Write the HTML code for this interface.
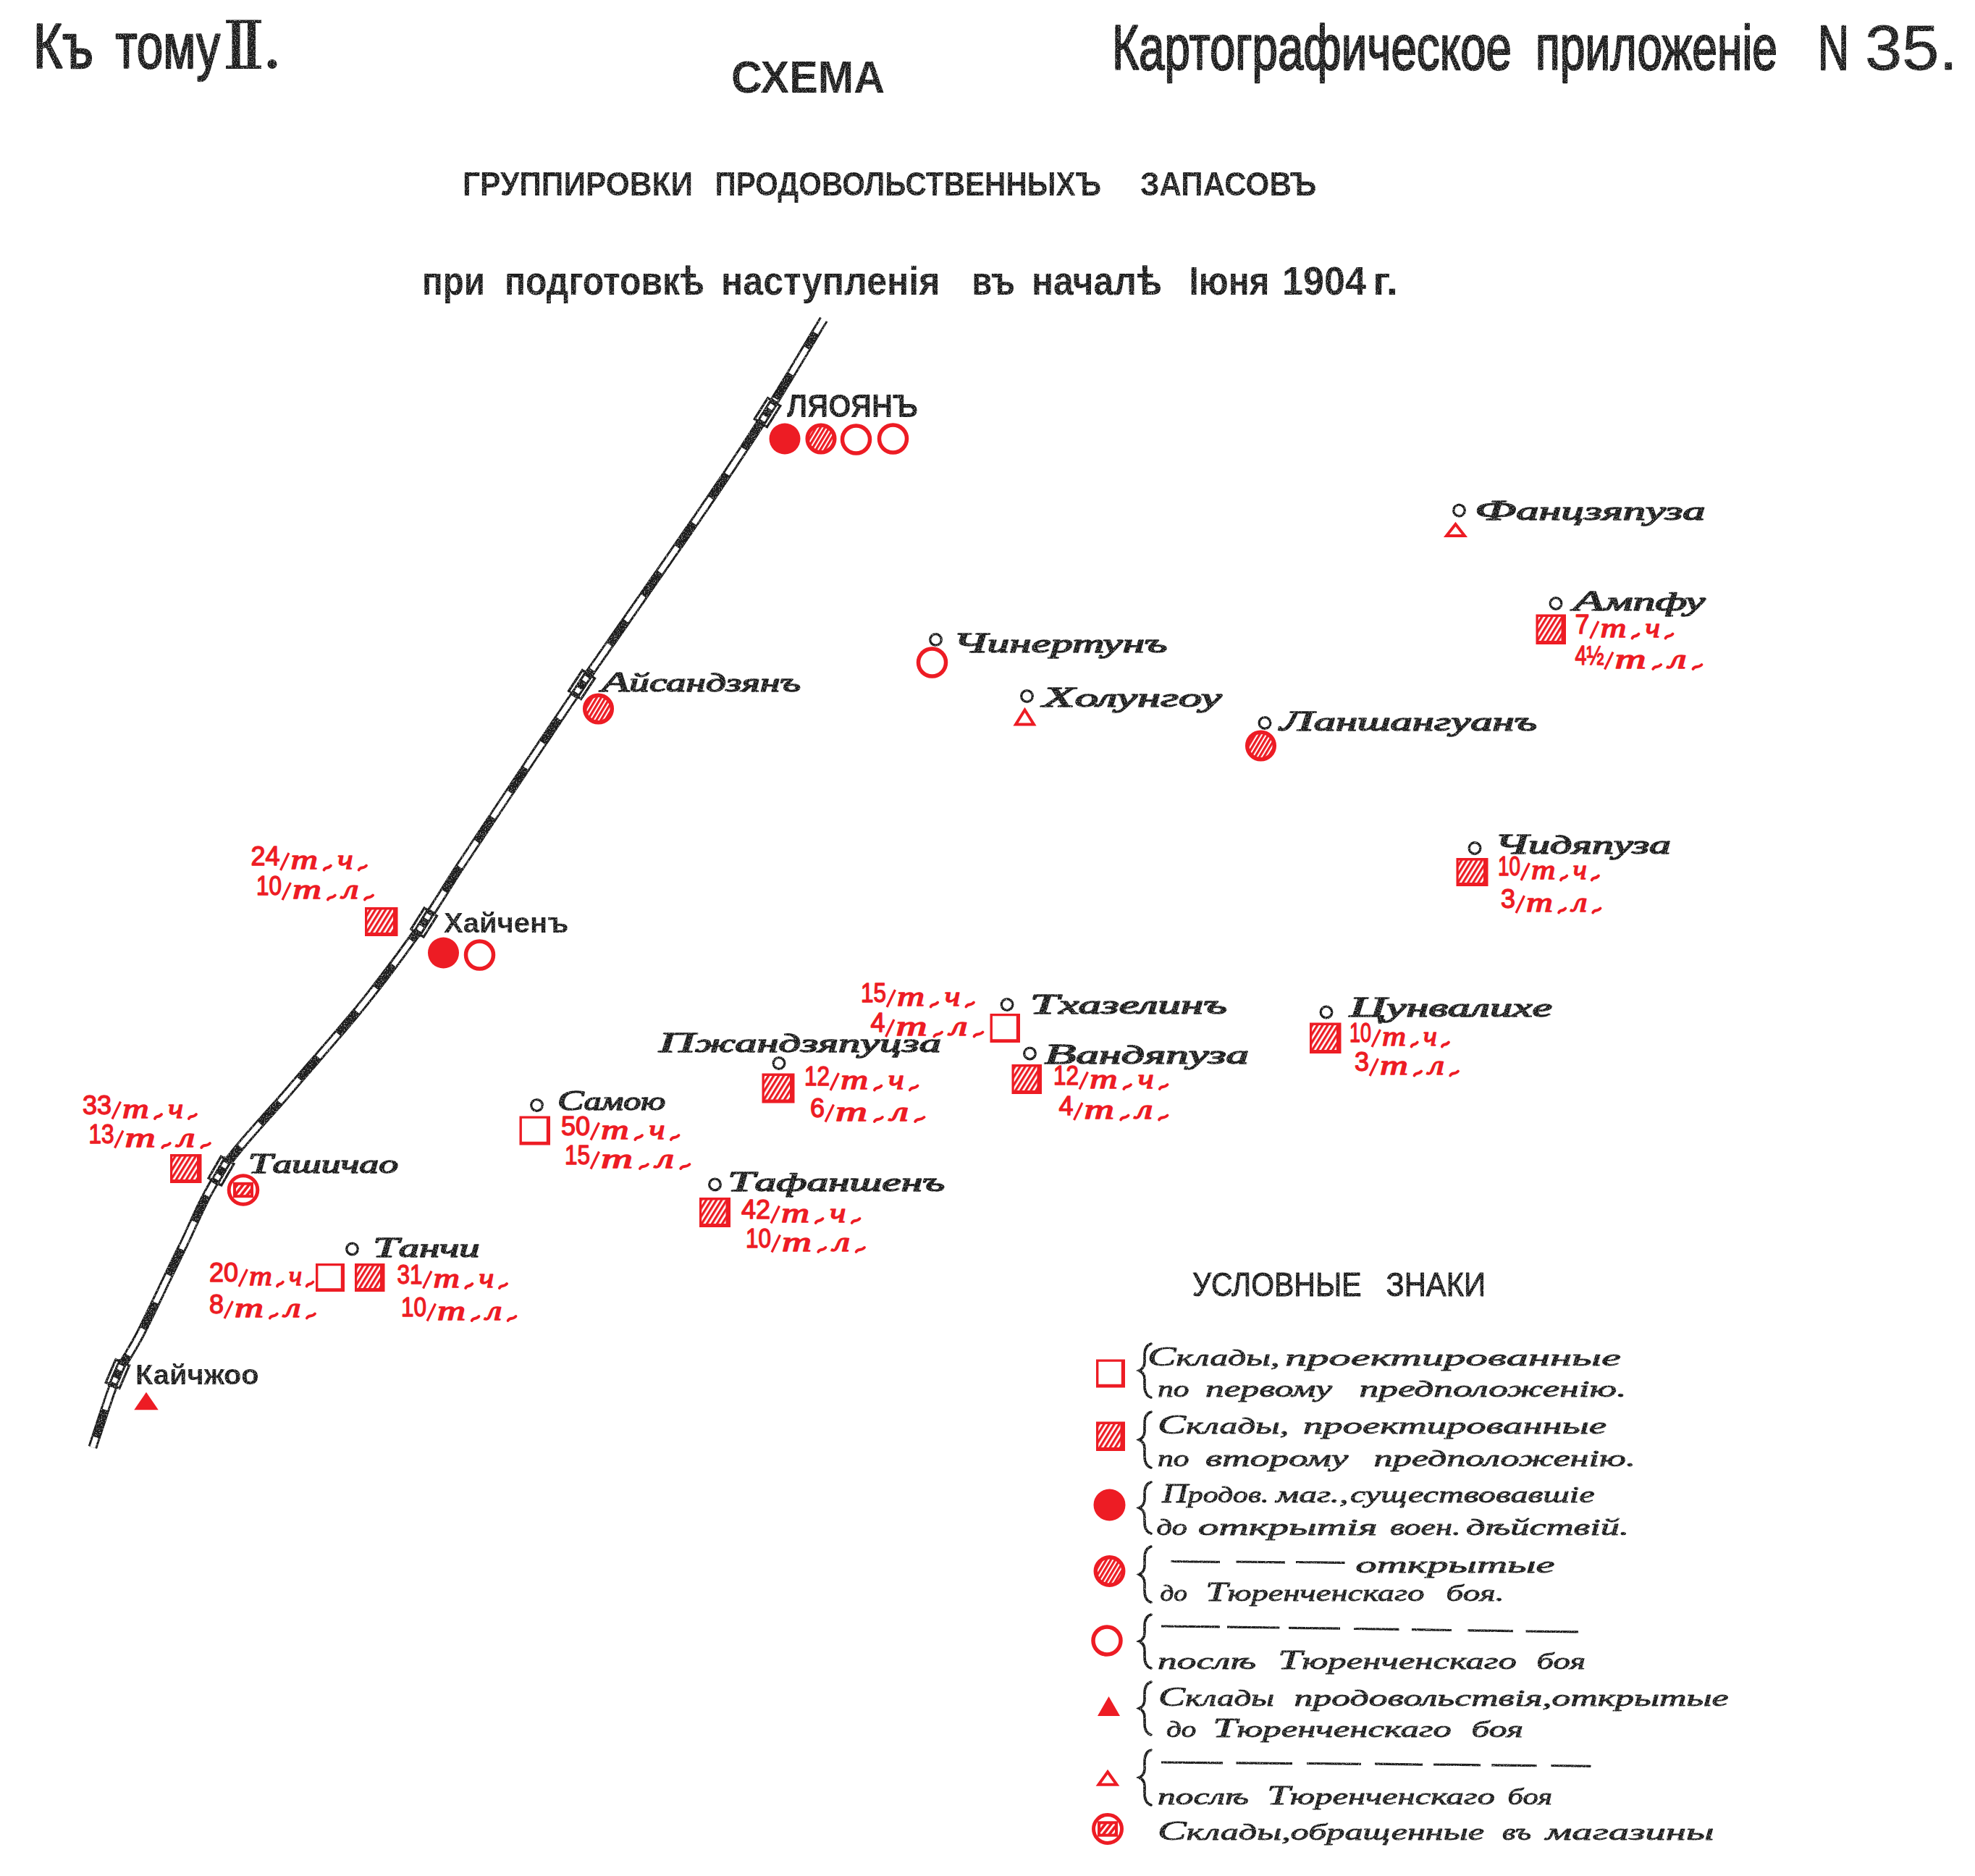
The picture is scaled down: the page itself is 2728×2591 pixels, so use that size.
<!DOCTYPE html>
<html><head><meta charset="utf-8"><title>Схема</title>
<style>html,body{margin:0;padding:0;background:#fff}body{width:2728px;height:2591px;overflow:hidden;font-family:"Liberation Sans",sans-serif}svg{display:block}</style>
</head><body>
<svg width="2728" height="2591" viewBox="0 0 2728 2591">
<defs>
<pattern id="hatch" patternUnits="userSpaceOnUse" width="6" height="6" patternTransform="rotate(32)">
<rect width="6" height="6" fill="#fff"/><rect width="3.3" height="6" fill="#ed1c24"/>
</pattern>
<pattern id="hatchc" patternUnits="userSpaceOnUse" width="5.2" height="5.2" patternTransform="rotate(31)">
<rect width="5.2" height="5.2" fill="#fff"/><rect width="3.2" height="5.2" fill="#ed1c24"/>
</pattern>
<pattern id="hatch2" patternUnits="userSpaceOnUse" width="6.5" height="6.5" patternTransform="rotate(38)">
<rect width="6.5" height="6.5" fill="#ed1c24"/><rect width="2.6" height="6.5" fill="#fff"/>
</pattern>
<filter id="grain" x="0" y="0" width="2728" height="2591" filterUnits="userSpaceOnUse" color-interpolation-filters="sRGB">
<feTurbulence type="fractalNoise" baseFrequency="0.6" numOctaves="2" seed="7" result="n"/>
<feComponentTransfer in="n" result="m"><feFuncA type="table" tableValues="1 1 1 1 1 1 1 1 1 1 1 1 0.9 0.65 0.48 0.42 0.4 0.4 0.4 0.4 0.4"/></feComponentTransfer>
<feComposite in="SourceGraphic" in2="m" operator="in"/>
</filter>
</defs>
<rect width="2728" height="2591" fill="#fff"/>
<g filter="url(#grain)">
<text x="46.0" y="93.5" font-family="'Liberation Sans', sans-serif" font-size="88" fill="#1c1c1c" textLength="83.0" lengthAdjust="spacingAndGlyphs" stroke="#1c1c1c" stroke-width="2.4" stroke-linejoin="round">Къ</text>
<text x="159.5" y="93.5" font-family="'Liberation Sans', sans-serif" font-size="88" fill="#1c1c1c" textLength="144.5" lengthAdjust="spacingAndGlyphs" stroke="#1c1c1c" stroke-width="2.4" stroke-linejoin="round">тому</text>
<g fill="#1c1c1c"><rect x="312" y="27.5" width="49" height="4.5"/><rect x="312" y="90.5" width="49" height="4.5"/><rect x="320.5" y="28" width="11" height="66"/><rect x="342" y="28" width="11" height="66"/><circle cx="376" cy="88.5" r="6.5"/></g>
<text x="1536.0" y="95.5" font-family="'Liberation Sans', sans-serif" font-size="88" fill="#1c1c1c" textLength="552.0" lengthAdjust="spacingAndGlyphs" stroke="#1c1c1c" stroke-width="2.4" stroke-linejoin="round">Картографическое</text>
<text x="2121.0" y="95.5" font-family="'Liberation Sans', sans-serif" font-size="88" fill="#1c1c1c" textLength="334.0" lengthAdjust="spacingAndGlyphs" stroke="#1c1c1c" stroke-width="2.4" stroke-linejoin="round">приложенiе</text>
<text x="2511.0" y="95.5" font-family="'Liberation Sans', sans-serif" font-size="88" fill="#1c1c1c" textLength="43.0" lengthAdjust="spacingAndGlyphs" stroke="#1c1c1c" stroke-width="2.4" stroke-linejoin="round">N</text>
<text x="2576.0" y="95.5" font-family="'Liberation Sans', sans-serif" font-size="88" fill="#1c1c1c" textLength="128.0" lengthAdjust="spacingAndGlyphs" stroke="#1c1c1c" stroke-width="0.8" stroke-linejoin="round">35.</text>
<text x="1010.0" y="127.5" font-family="'Liberation Sans', sans-serif" font-size="63" font-weight="bold" fill="#1c1c1c" textLength="212.0" lengthAdjust="spacingAndGlyphs">СХЕМА</text>
<text x="639.0" y="270.0" font-family="'Liberation Sans', sans-serif" font-size="45.5" font-weight="bold" fill="#1c1c1c" textLength="318.0" lengthAdjust="spacingAndGlyphs">ГРУППИРОВКИ</text>
<text x="987.5" y="270.0" font-family="'Liberation Sans', sans-serif" font-size="45.5" font-weight="bold" fill="#1c1c1c" textLength="533.5" lengthAdjust="spacingAndGlyphs">ПРОДОВОЛЬСТВЕННЫХЪ</text>
<text x="1575.0" y="270.0" font-family="'Liberation Sans', sans-serif" font-size="45.5" font-weight="bold" fill="#1c1c1c" textLength="243.5" lengthAdjust="spacingAndGlyphs">ЗАПАСОВЪ</text>
<text x="583.0" y="406.5" font-family="'Liberation Sans', sans-serif" font-size="55" font-weight="bold" fill="#1c1c1c" textLength="87.0" lengthAdjust="spacingAndGlyphs">при</text>
<text x="697.0" y="406.5" font-family="'Liberation Sans', sans-serif" font-size="55" font-weight="bold" fill="#1c1c1c" textLength="276.0" lengthAdjust="spacingAndGlyphs">подготовкѣ</text>
<text x="996.0" y="406.5" font-family="'Liberation Sans', sans-serif" font-size="55" font-weight="bold" fill="#1c1c1c" textLength="302.5" lengthAdjust="spacingAndGlyphs">наступленiя</text>
<text x="1342.5" y="406.5" font-family="'Liberation Sans', sans-serif" font-size="55" font-weight="bold" fill="#1c1c1c" textLength="59.5" lengthAdjust="spacingAndGlyphs">въ</text>
<text x="1425.0" y="406.5" font-family="'Liberation Sans', sans-serif" font-size="55" font-weight="bold" fill="#1c1c1c" textLength="180.0" lengthAdjust="spacingAndGlyphs">началѣ</text>
<text x="1642.5" y="406.5" font-family="'Liberation Sans', sans-serif" font-size="55" font-weight="bold" fill="#1c1c1c" textLength="111.0" lengthAdjust="spacingAndGlyphs">Iюня</text>
<text x="1771.0" y="406.5" font-family="'Liberation Sans', sans-serif" font-size="55" font-weight="bold" fill="#1c1c1c" textLength="116.0" lengthAdjust="spacingAndGlyphs">1904</text>
<text x="1896.0" y="406.5" font-family="'Liberation Sans', sans-serif" font-size="55" font-weight="bold" fill="#1c1c1c" textLength="35.0" lengthAdjust="spacingAndGlyphs">г.</text>
<path d="M1137.8,441.2 C1124.8,462.6 1085.6,528.9 1060,569.5 C1034.4,610.1 1013.0,642.1 984,685 C955.0,727.9 916.1,783.6 886,827 C855.9,870.4 829.8,907.1 803.5,945.6 C777.2,984.1 755.8,1016.4 728,1058 C700.2,1099.6 660.3,1159.2 636.6,1195.2 C612.9,1231.2 607.8,1242.6 585.7,1274.1 C563.6,1305.6 534.8,1345.4 503.8,1384 C472.9,1422.6 433.0,1466.9 400,1505.7 C367.0,1544.5 330.9,1580.5 306,1617 C281.1,1653.5 269.1,1687.8 250.6,1725 C232.1,1762.2 209.7,1811.0 195,1840 C180.3,1869.0 172.6,1875.6 162.4,1899 C152.2,1922.4 139.7,1963.8 134,1980.5 C128.3,1997.2 129.0,1995.9 128,1999" fill="none" stroke="#1c1c1c" stroke-width="13"/>
<path d="M1137.8,441.2 C1124.8,462.6 1085.6,528.9 1060,569.5 C1034.4,610.1 1013.0,642.1 984,685 C955.0,727.9 916.1,783.6 886,827 C855.9,870.4 829.8,907.1 803.5,945.6 C777.2,984.1 755.8,1016.4 728,1058 C700.2,1099.6 660.3,1159.2 636.6,1195.2 C612.9,1231.2 607.8,1242.6 585.7,1274.1 C563.6,1305.6 534.8,1345.4 503.8,1384 C472.9,1422.6 433.0,1466.9 400,1505.7 C367.0,1544.5 330.9,1580.5 306,1617 C281.1,1653.5 269.1,1687.8 250.6,1725 C232.1,1762.2 209.7,1811.0 195,1840 C180.3,1869.0 172.6,1875.6 162.4,1899 C152.2,1922.4 139.7,1963.8 134,1980.5 C128.3,1997.2 129.0,1995.9 128,1999" fill="none" stroke="#fff" stroke-width="7" stroke-dasharray="42 40" stroke-dashoffset="36"/>
<path d="M1140.4,437 L1126.6,459.8" stroke="#fff" stroke-width="7"/>
<g transform="translate(1060,569.7) rotate(32.2)"><rect x="-10.2" y="-17.2" width="20.4" height="34.4" fill="#fff" stroke="#1c1c1c" stroke-width="3.3"/><rect x="-6.5" y="-20" width="13" height="40" fill="#1c1c1c"/><rect x="-3.3" y="-13" width="6.6" height="7" fill="#fff"/><rect x="-3.3" y="6" width="6.6" height="7" fill="#fff"/></g>
<g transform="translate(803.5,945.6) rotate(33.4)"><rect x="-10.2" y="-17.2" width="20.4" height="34.4" fill="#fff" stroke="#1c1c1c" stroke-width="3.3"/><rect x="-6.5" y="-20" width="13" height="40" fill="#1c1c1c"/><rect x="-3.3" y="-13" width="6.6" height="7" fill="#fff"/><rect x="-3.3" y="6" width="6.6" height="7" fill="#fff"/></g>
<g transform="translate(585.6,1274.1) rotate(32.2)"><rect x="-10.2" y="-17.2" width="20.4" height="34.4" fill="#fff" stroke="#1c1c1c" stroke-width="3.3"/><rect x="-6.5" y="-20" width="13" height="40" fill="#1c1c1c"/><rect x="-3.3" y="-13" width="6.6" height="7" fill="#fff"/><rect x="-3.3" y="6" width="6.6" height="7" fill="#fff"/></g>
<g transform="translate(305.5,1617.3) rotate(30.1)"><rect x="-10.2" y="-17.2" width="20.4" height="34.4" fill="#fff" stroke="#1c1c1c" stroke-width="3.3"/><rect x="-6.5" y="-20" width="13" height="40" fill="#1c1c1c"/><rect x="-3.3" y="-13" width="6.6" height="7" fill="#fff"/><rect x="-3.3" y="6" width="6.6" height="7" fill="#fff"/></g>
<g transform="translate(162.4,1897.6) rotate(23.3)"><rect x="-10.2" y="-17.2" width="20.4" height="34.4" fill="#fff" stroke="#1c1c1c" stroke-width="3.3"/><rect x="-6.5" y="-20" width="13" height="40" fill="#1c1c1c"/><rect x="-3.3" y="-13" width="6.6" height="7" fill="#fff"/><rect x="-3.3" y="6" width="6.6" height="7" fill="#fff"/></g>
<text x="1087.0" y="575.5" font-family="'Liberation Sans', sans-serif" font-size="44" font-weight="bold" fill="#1c1c1c" textLength="181.0" lengthAdjust="spacingAndGlyphs">ЛЯОЯНЪ</text>
<text x="831.0" y="955.0" font-family="'Liberation Serif', serif" font-size="41" font-style="italic" fill="#1c1c1c" textLength="275.0" lengthAdjust="spacingAndGlyphs" stroke="#1c1c1c" stroke-width="1.6" stroke-linejoin="round"><tspan font-size="41">А</tspan><tspan font-size="36">йсандзянъ</tspan></text>
<text x="613.0" y="1287.5" font-family="'Liberation Sans', sans-serif" font-size="38.5" font-weight="bold" fill="#1c1c1c" textLength="172.5" lengthAdjust="spacingAndGlyphs">Хайченъ</text>
<text x="342.5" y="1620.0" font-family="'Liberation Serif', serif" font-size="41" font-style="italic" fill="#1c1c1c" textLength="207.5" lengthAdjust="spacingAndGlyphs" stroke="#1c1c1c" stroke-width="1.6" stroke-linejoin="round"><tspan font-size="41">Т</tspan><tspan font-size="36">ашичао</tspan></text>
<circle cx="486.5" cy="1725" r="7.8" fill="#fff" stroke="#1c1c1c" stroke-width="3.3"/>
<text x="515.0" y="1736.0" font-family="'Liberation Serif', serif" font-size="41" font-style="italic" fill="#1c1c1c" textLength="147.5" lengthAdjust="spacingAndGlyphs" stroke="#1c1c1c" stroke-width="1.6" stroke-linejoin="round"><tspan font-size="41">Т</tspan><tspan font-size="36">анчи</tspan></text>
<text x="187.0" y="1912.3" font-family="'Liberation Sans', sans-serif" font-size="39.5" font-weight="bold" fill="#1c1c1c" textLength="170.7" lengthAdjust="spacingAndGlyphs">Кайчжоо</text>
<circle cx="741.5" cy="1526.5" r="7.8" fill="#fff" stroke="#1c1c1c" stroke-width="3.3"/>
<text x="770.0" y="1532.5" font-family="'Liberation Serif', serif" font-size="41" font-style="italic" fill="#1c1c1c" textLength="149.0" lengthAdjust="spacingAndGlyphs" stroke="#1c1c1c" stroke-width="1.6" stroke-linejoin="round"><tspan font-size="41">С</tspan><tspan font-size="36">амою</tspan></text>
<text x="910.0" y="1452.5" font-family="'Liberation Serif', serif" font-size="41" font-style="italic" fill="#1c1c1c" textLength="390.0" lengthAdjust="spacingAndGlyphs" stroke="#1c1c1c" stroke-width="1.6" stroke-linejoin="round"><tspan font-size="41">П</tspan><tspan font-size="36">жандзяпуцза</tspan></text>
<circle cx="1076" cy="1468.5" r="7.8" fill="#fff" stroke="#1c1c1c" stroke-width="3.3"/>
<circle cx="987.5" cy="1636" r="7.8" fill="#fff" stroke="#1c1c1c" stroke-width="3.3"/>
<text x="1005.0" y="1645.0" font-family="'Liberation Serif', serif" font-size="41" font-style="italic" fill="#1c1c1c" textLength="300.0" lengthAdjust="spacingAndGlyphs" stroke="#1c1c1c" stroke-width="1.6" stroke-linejoin="round"><tspan font-size="41">Т</tspan><tspan font-size="36">афаншенъ</tspan></text>
<circle cx="1391" cy="1387.5" r="7.8" fill="#fff" stroke="#1c1c1c" stroke-width="3.3"/>
<text x="1422.5" y="1400.0" font-family="'Liberation Serif', serif" font-size="41" font-style="italic" fill="#1c1c1c" textLength="272.5" lengthAdjust="spacingAndGlyphs" stroke="#1c1c1c" stroke-width="1.6" stroke-linejoin="round"><tspan font-size="41">Т</tspan><tspan font-size="36">хазелинъ</tspan></text>
<circle cx="1422.5" cy="1455" r="7.8" fill="#fff" stroke="#1c1c1c" stroke-width="3.3"/>
<text x="1442.5" y="1468.5" font-family="'Liberation Serif', serif" font-size="41" font-style="italic" fill="#1c1c1c" textLength="282.5" lengthAdjust="spacingAndGlyphs" stroke="#1c1c1c" stroke-width="1.6" stroke-linejoin="round"><tspan font-size="41">В</tspan><tspan font-size="36">андяпуза</tspan></text>
<circle cx="1832" cy="1398" r="7.8" fill="#fff" stroke="#1c1c1c" stroke-width="3.3"/>
<text x="1864.0" y="1404.0" font-family="'Liberation Serif', serif" font-size="41" font-style="italic" fill="#1c1c1c" textLength="280.0" lengthAdjust="spacingAndGlyphs" stroke="#1c1c1c" stroke-width="1.6" stroke-linejoin="round"><tspan font-size="41">Ц</tspan><tspan font-size="36">унвалихе</tspan></text>
<circle cx="2015.5" cy="705" r="7.8" fill="#fff" stroke="#1c1c1c" stroke-width="3.3"/>
<text x="2037.0" y="717.5" font-family="'Liberation Serif', serif" font-size="41" font-style="italic" fill="#1c1c1c" textLength="318.5" lengthAdjust="spacingAndGlyphs" stroke="#1c1c1c" stroke-width="1.6" stroke-linejoin="round"><tspan font-size="41">Ф</tspan><tspan font-size="36">анцзяпуза</tspan></text>
<circle cx="2149" cy="833.5" r="7.8" fill="#fff" stroke="#1c1c1c" stroke-width="3.3"/>
<text x="2173.0" y="842.5" font-family="'Liberation Serif', serif" font-size="41" font-style="italic" fill="#1c1c1c" textLength="182.5" lengthAdjust="spacingAndGlyphs" stroke="#1c1c1c" stroke-width="1.6" stroke-linejoin="round"><tspan font-size="41">А</tspan><tspan font-size="36">мпфу</tspan></text>
<circle cx="1292.5" cy="883.5" r="7.8" fill="#fff" stroke="#1c1c1c" stroke-width="3.3"/>
<text x="1316.0" y="901.0" font-family="'Liberation Serif', serif" font-size="41" font-style="italic" fill="#1c1c1c" textLength="296.5" lengthAdjust="spacingAndGlyphs" stroke="#1c1c1c" stroke-width="1.6" stroke-linejoin="round"><tspan font-size="41">Ч</tspan><tspan font-size="36">инертунъ</tspan></text>
<circle cx="1418.5" cy="961.5" r="7.8" fill="#fff" stroke="#1c1c1c" stroke-width="3.3"/>
<text x="1440.0" y="976.0" font-family="'Liberation Serif', serif" font-size="41" font-style="italic" fill="#1c1c1c" textLength="247.5" lengthAdjust="spacingAndGlyphs" stroke="#1c1c1c" stroke-width="1.6" stroke-linejoin="round"><tspan font-size="41">Х</tspan><tspan font-size="36">олунгоу</tspan></text>
<circle cx="1747" cy="998.5" r="7.8" fill="#fff" stroke="#1c1c1c" stroke-width="3.3"/>
<text x="1768.0" y="1009.0" font-family="'Liberation Serif', serif" font-size="41" font-style="italic" fill="#1c1c1c" textLength="355.0" lengthAdjust="spacingAndGlyphs" stroke="#1c1c1c" stroke-width="1.6" stroke-linejoin="round"><tspan font-size="41">Л</tspan><tspan font-size="36">аншангуанъ</tspan></text>
<circle cx="2037" cy="1171.5" r="7.8" fill="#fff" stroke="#1c1c1c" stroke-width="3.3"/>
<text x="2064.0" y="1178.5" font-family="'Liberation Serif', serif" font-size="41" font-style="italic" fill="#1c1c1c" textLength="244.0" lengthAdjust="spacingAndGlyphs" stroke="#1c1c1c" stroke-width="1.6" stroke-linejoin="round"><tspan font-size="41">Ч</tspan><tspan font-size="36">идяпуза</tspan></text>
<text x="1647.0" y="1790.0" font-family="'Liberation Sans', sans-serif" font-size="46.5" fill="#1c1c1c" textLength="233.5" lengthAdjust="spacingAndGlyphs" stroke="#1c1c1c" stroke-width="1.1" stroke-linejoin="round">УСЛОВНЫЕ</text>
<text x="1914.5" y="1790.0" font-family="'Liberation Sans', sans-serif" font-size="46.5" fill="#1c1c1c" textLength="137.5" lengthAdjust="spacingAndGlyphs" stroke="#1c1c1c" stroke-width="1.1" stroke-linejoin="round">ЗНАКИ</text>
<path d="M1590,1856 C1583,1858 1581,1864 1581,1872 L1581,1881.0 C1581,1888.0 1578,1891.0 1573.5,1893.0 C1578,1895.0 1581,1898.0 1581,1905.0 L1581,1914 C1581,1922 1583,1928 1590,1930" fill="none" stroke="#1c1c1c" stroke-width="3.6" stroke-linecap="round"/>
<text x="1585.0" y="1886.0" font-family="'Liberation Serif', serif" font-size="38" font-style="italic" fill="#1c1c1c" textLength="182.5" lengthAdjust="spacingAndGlyphs" stroke="#1c1c1c" stroke-width="0.9" stroke-linejoin="round"><tspan font-size="38">С</tspan><tspan font-size="32">клады,</tspan></text>
<text x="1775.0" y="1886.0" font-family="'Liberation Serif', serif" font-size="38" font-style="italic" fill="#1c1c1c" textLength="464.0" lengthAdjust="spacingAndGlyphs" stroke="#1c1c1c" stroke-width="0.9" stroke-linejoin="round"><tspan font-size="32">проектированные</tspan></text>
<text x="1599.0" y="1929.0" font-family="'Liberation Serif', serif" font-size="38" font-style="italic" fill="#1c1c1c" textLength="43.5" lengthAdjust="spacingAndGlyphs" stroke="#1c1c1c" stroke-width="0.9" stroke-linejoin="round"><tspan font-size="32">по</tspan></text>
<text x="1665.0" y="1929.0" font-family="'Liberation Serif', serif" font-size="38" font-style="italic" fill="#1c1c1c" textLength="175.0" lengthAdjust="spacingAndGlyphs" stroke="#1c1c1c" stroke-width="0.9" stroke-linejoin="round"><tspan font-size="32">первому</tspan></text>
<text x="1877.5" y="1929.0" font-family="'Liberation Serif', serif" font-size="38" font-style="italic" fill="#1c1c1c" textLength="369.0" lengthAdjust="spacingAndGlyphs" stroke="#1c1c1c" stroke-width="0.9" stroke-linejoin="round"><tspan font-size="32">предположенiю.</tspan></text>
<path d="M1590,1950 C1583,1952 1581,1958 1581,1966 L1581,1976.5 C1581,1983.5 1578,1986.5 1573.5,1988.5 C1578,1990.5 1581,1993.5 1581,2000.5 L1581,2011 C1581,2019 1583,2025 1590,2027" fill="none" stroke="#1c1c1c" stroke-width="3.6" stroke-linecap="round"/>
<text x="1599.0" y="1980.0" font-family="'Liberation Serif', serif" font-size="38" font-style="italic" fill="#1c1c1c" textLength="181.0" lengthAdjust="spacingAndGlyphs" stroke="#1c1c1c" stroke-width="0.9" stroke-linejoin="round"><tspan font-size="38">С</tspan><tspan font-size="32">клады,</tspan></text>
<text x="1800.0" y="1980.0" font-family="'Liberation Serif', serif" font-size="38" font-style="italic" fill="#1c1c1c" textLength="419.0" lengthAdjust="spacingAndGlyphs" stroke="#1c1c1c" stroke-width="0.9" stroke-linejoin="round"><tspan font-size="32">проектированные</tspan></text>
<text x="1599.0" y="2025.0" font-family="'Liberation Serif', serif" font-size="38" font-style="italic" fill="#1c1c1c" textLength="43.5" lengthAdjust="spacingAndGlyphs" stroke="#1c1c1c" stroke-width="0.9" stroke-linejoin="round"><tspan font-size="32">по</tspan></text>
<text x="1665.0" y="2025.0" font-family="'Liberation Serif', serif" font-size="38" font-style="italic" fill="#1c1c1c" textLength="197.5" lengthAdjust="spacingAndGlyphs" stroke="#1c1c1c" stroke-width="0.9" stroke-linejoin="round"><tspan font-size="32">второму</tspan></text>
<text x="1897.5" y="2025.0" font-family="'Liberation Serif', serif" font-size="38" font-style="italic" fill="#1c1c1c" textLength="361.5" lengthAdjust="spacingAndGlyphs" stroke="#1c1c1c" stroke-width="0.9" stroke-linejoin="round"><tspan font-size="32">предположенiю.</tspan></text>
<path d="M1590,2047 C1583,2049 1581,2055 1581,2063 L1581,2070.5 C1581,2077.5 1578,2080.5 1573.5,2082.5 C1578,2084.5 1581,2087.5 1581,2094.5 L1581,2102 C1581,2110 1583,2116 1590,2118" fill="none" stroke="#1c1c1c" stroke-width="3.6" stroke-linecap="round"/>
<text x="1605.0" y="2075.0" font-family="'Liberation Serif', serif" font-size="38" font-style="italic" fill="#1c1c1c" textLength="147.5" lengthAdjust="spacingAndGlyphs" stroke="#1c1c1c" stroke-width="0.9" stroke-linejoin="round"><tspan font-size="38">П</tspan><tspan font-size="32">родов.</tspan></text>
<text x="1762.5" y="2075.0" font-family="'Liberation Serif', serif" font-size="38" font-style="italic" fill="#1c1c1c" textLength="100.0" lengthAdjust="spacingAndGlyphs" stroke="#1c1c1c" stroke-width="0.9" stroke-linejoin="round"><tspan font-size="32">маг.,</tspan></text>
<text x="1865.0" y="2075.0" font-family="'Liberation Serif', serif" font-size="38" font-style="italic" fill="#1c1c1c" textLength="337.5" lengthAdjust="spacingAndGlyphs" stroke="#1c1c1c" stroke-width="0.9" stroke-linejoin="round"><tspan font-size="32">существовавшiе</tspan></text>
<text x="1597.5" y="2120.0" font-family="'Liberation Serif', serif" font-size="38" font-style="italic" fill="#1c1c1c" textLength="42.5" lengthAdjust="spacingAndGlyphs" stroke="#1c1c1c" stroke-width="0.9" stroke-linejoin="round"><tspan font-size="32">до</tspan></text>
<text x="1655.0" y="2120.0" font-family="'Liberation Serif', serif" font-size="38" font-style="italic" fill="#1c1c1c" textLength="247.5" lengthAdjust="spacingAndGlyphs" stroke="#1c1c1c" stroke-width="0.9" stroke-linejoin="round"><tspan font-size="32">открытiя</tspan></text>
<text x="1920.0" y="2120.0" font-family="'Liberation Serif', serif" font-size="38" font-style="italic" fill="#1c1c1c" textLength="97.5" lengthAdjust="spacingAndGlyphs" stroke="#1c1c1c" stroke-width="0.9" stroke-linejoin="round"><tspan font-size="32">воен.</tspan></text>
<text x="2025.0" y="2120.0" font-family="'Liberation Serif', serif" font-size="38" font-style="italic" fill="#1c1c1c" textLength="225.0" lengthAdjust="spacingAndGlyphs" stroke="#1c1c1c" stroke-width="0.9" stroke-linejoin="round"><tspan font-size="32">дѣйствiй.</tspan></text>
<path d="M1590,2136 C1583,2138 1581,2144 1581,2152 L1581,2162.5 C1581,2169.5 1578,2172.5 1573.5,2174.5 C1578,2176.5 1581,2179.5 1581,2186.5 L1581,2197 C1581,2205 1583,2211 1590,2213" fill="none" stroke="#1c1c1c" stroke-width="3.6" stroke-linecap="round"/>
<path d="M1617.5,2156.5 L1685.0,2157.3" stroke="#1c1c1c" stroke-width="3.2"/>
<path d="M1707.5,2157.0 L1775.0,2157.8" stroke="#1c1c1c" stroke-width="3.2"/>
<path d="M1790.0,2157.5 L1857.5,2158.3" stroke="#1c1c1c" stroke-width="3.2"/>
<text x="1872.5" y="2171.5" font-family="'Liberation Serif', serif" font-size="38" font-style="italic" fill="#1c1c1c" textLength="275.0" lengthAdjust="spacingAndGlyphs" stroke="#1c1c1c" stroke-width="0.9" stroke-linejoin="round"><tspan font-size="32">открытые</tspan></text>
<text x="1602.5" y="2211.0" font-family="'Liberation Serif', serif" font-size="38" font-style="italic" fill="#1c1c1c" textLength="37.5" lengthAdjust="spacingAndGlyphs" stroke="#1c1c1c" stroke-width="0.9" stroke-linejoin="round"><tspan font-size="32">до</tspan></text>
<text x="1665.0" y="2211.0" font-family="'Liberation Serif', serif" font-size="38" font-style="italic" fill="#1c1c1c" textLength="302.5" lengthAdjust="spacingAndGlyphs" stroke="#1c1c1c" stroke-width="0.9" stroke-linejoin="round"><tspan font-size="38">Т</tspan><tspan font-size="32">юренченскаго</tspan></text>
<text x="1997.5" y="2211.0" font-family="'Liberation Serif', serif" font-size="38" font-style="italic" fill="#1c1c1c" textLength="80.0" lengthAdjust="spacingAndGlyphs" stroke="#1c1c1c" stroke-width="0.9" stroke-linejoin="round"><tspan font-size="32">боя.</tspan></text>
<path d="M1590,2230 C1583,2232 1581,2238 1581,2246 L1581,2255.0 C1581,2262.0 1578,2265.0 1573.5,2267.0 C1578,2269.0 1581,2272.0 1581,2279.0 L1581,2288 C1581,2296 1583,2302 1590,2304" fill="none" stroke="#1c1c1c" stroke-width="3.6" stroke-linecap="round"/>
<path d="M1604.0,2246.0 L1685.0,2246.8" stroke="#1c1c1c" stroke-width="3.2"/>
<path d="M1695.0,2247.2 L1767.5,2248.0" stroke="#1c1c1c" stroke-width="3.2"/>
<path d="M1780.0,2248.3 L1851.0,2249.1" stroke="#1c1c1c" stroke-width="3.2"/>
<path d="M1870.0,2249.5 L1932.5,2250.3" stroke="#1c1c1c" stroke-width="3.2"/>
<path d="M1950.0,2250.7 L2005.0,2251.5" stroke="#1c1c1c" stroke-width="3.2"/>
<path d="M2027.5,2251.8 L2090.0,2252.6" stroke="#1c1c1c" stroke-width="3.2"/>
<path d="M2107.5,2253.0 L2180.0,2253.8" stroke="#1c1c1c" stroke-width="3.2"/>
<text x="1599.0" y="2305.0" font-family="'Liberation Serif', serif" font-size="38" font-style="italic" fill="#1c1c1c" textLength="136.0" lengthAdjust="spacingAndGlyphs" stroke="#1c1c1c" stroke-width="0.9" stroke-linejoin="round"><tspan font-size="32">послѣ</tspan></text>
<text x="1765.0" y="2305.0" font-family="'Liberation Serif', serif" font-size="38" font-style="italic" fill="#1c1c1c" textLength="330.0" lengthAdjust="spacingAndGlyphs" stroke="#1c1c1c" stroke-width="0.9" stroke-linejoin="round"><tspan font-size="38">Т</tspan><tspan font-size="32">юренченскаго</tspan></text>
<text x="2122.5" y="2305.0" font-family="'Liberation Serif', serif" font-size="38" font-style="italic" fill="#1c1c1c" textLength="67.5" lengthAdjust="spacingAndGlyphs" stroke="#1c1c1c" stroke-width="0.9" stroke-linejoin="round"><tspan font-size="32">боя</tspan></text>
<path d="M1590,2323 C1583,2325 1581,2331 1581,2339 L1581,2347.5 C1581,2354.5 1578,2357.5 1573.5,2359.5 C1578,2361.5 1581,2364.5 1581,2371.5 L1581,2380 C1581,2388 1583,2394 1590,2396" fill="none" stroke="#1c1c1c" stroke-width="3.6" stroke-linecap="round"/>
<text x="1600.0" y="2356.0" font-family="'Liberation Serif', serif" font-size="38" font-style="italic" fill="#1c1c1c" textLength="160.0" lengthAdjust="spacingAndGlyphs" stroke="#1c1c1c" stroke-width="0.9" stroke-linejoin="round"><tspan font-size="38">С</tspan><tspan font-size="32">клады</tspan></text>
<text x="1787.5" y="2356.0" font-family="'Liberation Serif', serif" font-size="38" font-style="italic" fill="#1c1c1c" textLength="600.0" lengthAdjust="spacingAndGlyphs" stroke="#1c1c1c" stroke-width="0.9" stroke-linejoin="round"><tspan font-size="32">продовольствiя,открытые</tspan></text>
<text x="1611.0" y="2398.5" font-family="'Liberation Serif', serif" font-size="38" font-style="italic" fill="#1c1c1c" textLength="41.5" lengthAdjust="spacingAndGlyphs" stroke="#1c1c1c" stroke-width="0.9" stroke-linejoin="round"><tspan font-size="32">до</tspan></text>
<text x="1675.0" y="2398.5" font-family="'Liberation Serif', serif" font-size="38" font-style="italic" fill="#1c1c1c" textLength="330.0" lengthAdjust="spacingAndGlyphs" stroke="#1c1c1c" stroke-width="0.9" stroke-linejoin="round"><tspan font-size="38">Т</tspan><tspan font-size="32">юренченскаго</tspan></text>
<text x="2032.5" y="2398.5" font-family="'Liberation Serif', serif" font-size="38" font-style="italic" fill="#1c1c1c" textLength="71.5" lengthAdjust="spacingAndGlyphs" stroke="#1c1c1c" stroke-width="0.9" stroke-linejoin="round"><tspan font-size="32">боя</tspan></text>
<path d="M1590,2417 C1583,2419 1581,2425 1581,2433 L1581,2443.0 C1581,2450.0 1578,2453.0 1573.5,2455.0 C1578,2457.0 1581,2460.0 1581,2467.0 L1581,2477 C1581,2485 1583,2491 1590,2493" fill="none" stroke="#1c1c1c" stroke-width="3.6" stroke-linecap="round"/>
<path d="M1604.0,2434.0 L1689.0,2434.8" stroke="#1c1c1c" stroke-width="3.2"/>
<path d="M1707.5,2434.8 L1785.0,2435.6" stroke="#1c1c1c" stroke-width="3.2"/>
<path d="M1805.0,2435.5 L1880.0,2436.3" stroke="#1c1c1c" stroke-width="3.2"/>
<path d="M1899.0,2436.2 L1965.0,2437.1" stroke="#1c1c1c" stroke-width="3.2"/>
<path d="M1980.0,2437.0 L2045.0,2437.8" stroke="#1c1c1c" stroke-width="3.2"/>
<path d="M2060.0,2437.8 L2122.5,2438.6" stroke="#1c1c1c" stroke-width="3.2"/>
<path d="M2142.5,2438.5 L2197.5,2439.3" stroke="#1c1c1c" stroke-width="3.2"/>
<text x="1599.0" y="2492.0" font-family="'Liberation Serif', serif" font-size="38" font-style="italic" fill="#1c1c1c" textLength="126.0" lengthAdjust="spacingAndGlyphs" stroke="#1c1c1c" stroke-width="0.9" stroke-linejoin="round"><tspan font-size="32">послѣ</tspan></text>
<text x="1750.0" y="2492.0" font-family="'Liberation Serif', serif" font-size="38" font-style="italic" fill="#1c1c1c" textLength="315.0" lengthAdjust="spacingAndGlyphs" stroke="#1c1c1c" stroke-width="0.9" stroke-linejoin="round"><tspan font-size="38">Т</tspan><tspan font-size="32">юренченскаго</tspan></text>
<text x="2082.5" y="2492.0" font-family="'Liberation Serif', serif" font-size="38" font-style="italic" fill="#1c1c1c" textLength="61.5" lengthAdjust="spacingAndGlyphs" stroke="#1c1c1c" stroke-width="0.9" stroke-linejoin="round"><tspan font-size="32">боя</tspan></text>
<text x="1599.0" y="2541.0" font-family="'Liberation Serif', serif" font-size="38" font-style="italic" fill="#1c1c1c" textLength="451.0" lengthAdjust="spacingAndGlyphs" stroke="#1c1c1c" stroke-width="0.9" stroke-linejoin="round"><tspan font-size="38">С</tspan><tspan font-size="32">клады,обращенные</tspan></text>
<text x="2075.0" y="2541.0" font-family="'Liberation Serif', serif" font-size="38" font-style="italic" fill="#1c1c1c" textLength="40.0" lengthAdjust="spacingAndGlyphs" stroke="#1c1c1c" stroke-width="0.9" stroke-linejoin="round"><tspan font-size="32">въ</tspan></text>
<text x="2135.0" y="2541.0" font-family="'Liberation Serif', serif" font-size="38" font-style="italic" fill="#1c1c1c" textLength="232.5" lengthAdjust="spacingAndGlyphs" stroke="#1c1c1c" stroke-width="0.9" stroke-linejoin="round"><tspan font-size="32">магазины</tspan></text>
</g>
<g>
<circle cx="1084" cy="606" r="21.5" fill="#ed1c24"/>
<circle cx="1134" cy="606" r="18.8" fill="url(#hatchc)" stroke="#ed1c24" stroke-width="5.5"/>
<circle cx="1182.5" cy="607" r="19" fill="none" stroke="#ed1c24" stroke-width="5.5"/>
<circle cx="1233.5" cy="606" r="19" fill="none" stroke="#ed1c24" stroke-width="5.5"/>
<circle cx="826.5" cy="979" r="18.8" fill="url(#hatchc)" stroke="#ed1c24" stroke-width="5.5"/>
<circle cx="612.5" cy="1316" r="21.5" fill="#ed1c24"/>
<circle cx="662.5" cy="1319" r="19" fill="none" stroke="#ed1c24" stroke-width="5.5"/>
<rect x="505" y="1254" width="43.5" height="38" fill="url(#hatch)"/>
<path fill-rule="evenodd" fill="#ed1c24" d="M504,1253H549.5V1293H504Z M507.2,1256.6V1288H543.0V1256.6Z"/>
<text x="346.5" y="1195.0" font-family="'Liberation Sans', sans-serif" font-size="36" fill="#ed1c24" textLength="40.0" lengthAdjust="spacingAndGlyphs" stroke="#ed1c24" stroke-width="1.4" stroke-linejoin="round">24</text>
<path d="M387.5,1202 L399.0,1178" stroke="#ed1c24" stroke-width="3.2"/>
<text x="401.5" y="1200.0" font-family="'Liberation Serif', serif" font-size="37" font-style="italic" fill="#ed1c24" textLength="37.6" lengthAdjust="spacingAndGlyphs" stroke="#ed1c24" stroke-width="1.4" stroke-linejoin="round">т</text>
<path d="M447.5,1201.5 C449.8,1196.0 452.7,1201.0 456.9,1195.5" fill="none" stroke="#ed1c24" stroke-width="3.8" stroke-linecap="round"/>
<text x="466.3" y="1200.0" font-family="'Liberation Serif', serif" font-size="37" font-style="italic" fill="#ed1c24" textLength="21.4" lengthAdjust="spacingAndGlyphs" stroke="#ed1c24" stroke-width="1.4" stroke-linejoin="round">ч</text>
<path d="M495.6,1201.5 C498.2,1196.0 501.3,1201.0 506.0,1195.5" fill="none" stroke="#ed1c24" stroke-width="3.8" stroke-linecap="round"/>
<text x="354.0" y="1236.0" font-family="'Liberation Sans', sans-serif" font-size="36" fill="#ed1c24" textLength="35.0" lengthAdjust="spacingAndGlyphs" stroke="#ed1c24" stroke-width="1.4" stroke-linejoin="round">10</text>
<path d="M390,1243 L401.5,1219" stroke="#ed1c24" stroke-width="3.2"/>
<text x="404.0" y="1241.0" font-family="'Liberation Serif', serif" font-size="37" font-style="italic" fill="#ed1c24" textLength="40.0" lengthAdjust="spacingAndGlyphs" stroke="#ed1c24" stroke-width="1.4" stroke-linejoin="round">т</text>
<path d="M452.8,1242.5 C455.3,1237.0 458.3,1242.0 462.8,1236.5" fill="none" stroke="#ed1c24" stroke-width="3.8" stroke-linecap="round"/>
<text x="472.8" y="1241.0" font-family="'Liberation Serif', serif" font-size="37" font-style="italic" fill="#ed1c24" textLength="22.8" lengthAdjust="spacingAndGlyphs" stroke="#ed1c24" stroke-width="1.4" stroke-linejoin="round">л</text>
<path d="M503.9,1242.5 C506.7,1237.0 510.0,1242.0 515.0,1236.5" fill="none" stroke="#ed1c24" stroke-width="3.8" stroke-linecap="round"/>
<circle cx="336" cy="1643.5" r="19.8" fill="none" stroke="#ed1c24" stroke-width="5"/>
<rect x="324" y="1634.8" width="24" height="17.4" fill="url(#hatch2)" stroke="#ed1c24" stroke-width="4"/>
<rect x="236" y="1595" width="41.5" height="38" fill="url(#hatch)"/>
<path fill-rule="evenodd" fill="#ed1c24" d="M235,1594H278.5V1634H235Z M238.2,1597.6V1629H272.0V1597.6Z"/>
<text x="114.0" y="1538.5" font-family="'Liberation Sans', sans-serif" font-size="36" fill="#ed1c24" textLength="40.0" lengthAdjust="spacingAndGlyphs" stroke="#ed1c24" stroke-width="1.4" stroke-linejoin="round">33</text>
<path d="M155,1545.5 L166.5,1521.5" stroke="#ed1c24" stroke-width="3.2"/>
<text x="169.0" y="1543.5" font-family="'Liberation Serif', serif" font-size="37" font-style="italic" fill="#ed1c24" textLength="36.7" lengthAdjust="spacingAndGlyphs" stroke="#ed1c24" stroke-width="1.4" stroke-linejoin="round">т</text>
<path d="M213.9,1545.0 C216.2,1539.5 218.9,1544.5 223.1,1539.0" fill="none" stroke="#ed1c24" stroke-width="3.8" stroke-linecap="round"/>
<text x="232.2" y="1543.5" font-family="'Liberation Serif', serif" font-size="37" font-style="italic" fill="#ed1c24" textLength="20.9" lengthAdjust="spacingAndGlyphs" stroke="#ed1c24" stroke-width="1.4" stroke-linejoin="round">ч</text>
<path d="M260.8,1545.0 C263.4,1539.5 266.4,1544.5 271.0,1539.0" fill="none" stroke="#ed1c24" stroke-width="3.8" stroke-linecap="round"/>
<text x="122.5" y="1578.5" font-family="'Liberation Sans', sans-serif" font-size="36" fill="#ed1c24" textLength="35.0" lengthAdjust="spacingAndGlyphs" stroke="#ed1c24" stroke-width="1.4" stroke-linejoin="round">13</text>
<path d="M158.5,1585.5 L170.0,1561.5" stroke="#ed1c24" stroke-width="3.2"/>
<text x="172.5" y="1583.5" font-family="'Liberation Serif', serif" font-size="37" font-style="italic" fill="#ed1c24" textLength="42.3" lengthAdjust="spacingAndGlyphs" stroke="#ed1c24" stroke-width="1.4" stroke-linejoin="round">т</text>
<path d="M224.2,1585.0 C226.8,1579.5 230.0,1584.5 234.8,1579.0" fill="none" stroke="#ed1c24" stroke-width="3.8" stroke-linecap="round"/>
<text x="245.3" y="1583.5" font-family="'Liberation Serif', serif" font-size="37" font-style="italic" fill="#ed1c24" textLength="24.1" lengthAdjust="spacingAndGlyphs" stroke="#ed1c24" stroke-width="1.4" stroke-linejoin="round">л</text>
<path d="M278.2,1585.0 C281.2,1579.5 284.7,1584.5 290.0,1579.0" fill="none" stroke="#ed1c24" stroke-width="3.8" stroke-linecap="round"/>
<path fill-rule="evenodd" fill="#ed1c24" d="M436,1745H476V1784H436Z M439.4,1748.2V1779.2H470.8V1748.2Z"/>
<rect x="491" y="1746" width="39.5" height="37" fill="url(#hatch)"/>
<path fill-rule="evenodd" fill="#ed1c24" d="M490,1745H531.5V1784H490Z M493.2,1748.6V1779H525.0V1748.6Z"/>
<text x="289.0" y="1770.0" font-family="'Liberation Sans', sans-serif" font-size="36" fill="#ed1c24" textLength="40.0" lengthAdjust="spacingAndGlyphs" stroke="#ed1c24" stroke-width="1.4" stroke-linejoin="round">20</text>
<path d="M330,1777 L341.5,1753" stroke="#ed1c24" stroke-width="3.2"/>
<text x="344.0" y="1775.0" font-family="'Liberation Serif', serif" font-size="37" font-style="italic" fill="#ed1c24" textLength="31.9" lengthAdjust="spacingAndGlyphs" stroke="#ed1c24" stroke-width="1.4" stroke-linejoin="round">т</text>
<path d="M382.9,1776.5 C384.9,1771.0 387.3,1776.0 390.9,1770.5" fill="none" stroke="#ed1c24" stroke-width="3.8" stroke-linecap="round"/>
<text x="398.9" y="1775.0" font-family="'Liberation Serif', serif" font-size="37" font-style="italic" fill="#ed1c24" textLength="18.1" lengthAdjust="spacingAndGlyphs" stroke="#ed1c24" stroke-width="1.4" stroke-linejoin="round">ч</text>
<path d="M423.6,1776.5 C425.9,1771.0 428.5,1776.0 432.5,1770.5" fill="none" stroke="#ed1c24" stroke-width="3.8" stroke-linecap="round"/>
<text x="289.0" y="1814.0" font-family="'Liberation Sans', sans-serif" font-size="36" fill="#ed1c24" textLength="20.0" lengthAdjust="spacingAndGlyphs" stroke="#ed1c24" stroke-width="1.4" stroke-linejoin="round">8</text>
<path d="M310,1821 L321.5,1797" stroke="#ed1c24" stroke-width="3.2"/>
<text x="324.0" y="1819.0" font-family="'Liberation Serif', serif" font-size="37" font-style="italic" fill="#ed1c24" textLength="40.0" lengthAdjust="spacingAndGlyphs" stroke="#ed1c24" stroke-width="1.4" stroke-linejoin="round">т</text>
<path d="M372.8,1820.5 C375.3,1815.0 378.3,1820.0 382.8,1814.5" fill="none" stroke="#ed1c24" stroke-width="3.8" stroke-linecap="round"/>
<text x="392.8" y="1819.0" font-family="'Liberation Serif', serif" font-size="37" font-style="italic" fill="#ed1c24" textLength="22.8" lengthAdjust="spacingAndGlyphs" stroke="#ed1c24" stroke-width="1.4" stroke-linejoin="round">л</text>
<path d="M423.9,1820.5 C426.7,1815.0 430.0,1820.0 435.0,1814.5" fill="none" stroke="#ed1c24" stroke-width="3.8" stroke-linecap="round"/>
<text x="548.5" y="1772.5" font-family="'Liberation Sans', sans-serif" font-size="36" fill="#ed1c24" textLength="35.0" lengthAdjust="spacingAndGlyphs" stroke="#ed1c24" stroke-width="1.4" stroke-linejoin="round">31</text>
<path d="M584.5,1779.5 L596.0,1755.5" stroke="#ed1c24" stroke-width="3.2"/>
<text x="598.5" y="1777.5" font-family="'Liberation Serif', serif" font-size="37" font-style="italic" fill="#ed1c24" textLength="36.5" lengthAdjust="spacingAndGlyphs" stroke="#ed1c24" stroke-width="1.4" stroke-linejoin="round">т</text>
<path d="M643.2,1779.0 C645.4,1773.5 648.2,1778.5 652.3,1773.0" fill="none" stroke="#ed1c24" stroke-width="3.8" stroke-linecap="round"/>
<text x="661.4" y="1777.5" font-family="'Liberation Serif', serif" font-size="37" font-style="italic" fill="#ed1c24" textLength="20.8" lengthAdjust="spacingAndGlyphs" stroke="#ed1c24" stroke-width="1.4" stroke-linejoin="round">ч</text>
<path d="M689.9,1779.0 C692.4,1773.5 695.4,1778.5 700.0,1773.0" fill="none" stroke="#ed1c24" stroke-width="3.8" stroke-linecap="round"/>
<text x="554.0" y="1817.5" font-family="'Liberation Sans', sans-serif" font-size="36" fill="#ed1c24" textLength="35.0" lengthAdjust="spacingAndGlyphs" stroke="#ed1c24" stroke-width="1.4" stroke-linejoin="round">10</text>
<path d="M590,1824.5 L601.5,1800.5" stroke="#ed1c24" stroke-width="3.2"/>
<text x="604.0" y="1822.5" font-family="'Liberation Serif', serif" font-size="37" font-style="italic" fill="#ed1c24" textLength="39.1" lengthAdjust="spacingAndGlyphs" stroke="#ed1c24" stroke-width="1.4" stroke-linejoin="round">т</text>
<path d="M651.7,1824.0 C654.2,1818.5 657.1,1823.5 661.5,1818.0" fill="none" stroke="#ed1c24" stroke-width="3.8" stroke-linecap="round"/>
<text x="671.3" y="1822.5" font-family="'Liberation Serif', serif" font-size="37" font-style="italic" fill="#ed1c24" textLength="22.2" lengthAdjust="spacingAndGlyphs" stroke="#ed1c24" stroke-width="1.4" stroke-linejoin="round">л</text>
<path d="M701.6,1824.0 C704.4,1818.5 707.6,1823.5 712.5,1818.0" fill="none" stroke="#ed1c24" stroke-width="3.8" stroke-linecap="round"/>
<path d="M185.25,1947.3 L202,1922.7 L218.75,1947.3 Z" fill="#ed1c24"/>
<path fill-rule="evenodd" fill="#ed1c24" d="M717.5,1541.5H760V1581.5H717.5Z M720.9,1544.7V1576.7H754.8V1544.7Z"/>
<text x="775.0" y="1567.5" font-family="'Liberation Sans', sans-serif" font-size="36" fill="#ed1c24" textLength="40.0" lengthAdjust="spacingAndGlyphs" stroke="#ed1c24" stroke-width="1.4" stroke-linejoin="round">50</text>
<path d="M816,1574.5 L827.5,1550.5" stroke="#ed1c24" stroke-width="3.2"/>
<text x="830.0" y="1572.5" font-family="'Liberation Serif', serif" font-size="37" font-style="italic" fill="#ed1c24" textLength="38.7" lengthAdjust="spacingAndGlyphs" stroke="#ed1c24" stroke-width="1.4" stroke-linejoin="round">т</text>
<path d="M877.3,1574.0 C879.7,1568.5 882.6,1573.5 887.0,1568.0" fill="none" stroke="#ed1c24" stroke-width="3.8" stroke-linecap="round"/>
<text x="896.6" y="1572.5" font-family="'Liberation Serif', serif" font-size="37" font-style="italic" fill="#ed1c24" textLength="22.0" lengthAdjust="spacingAndGlyphs" stroke="#ed1c24" stroke-width="1.4" stroke-linejoin="round">ч</text>
<path d="M926.8,1574.0 C929.4,1568.5 932.7,1573.5 937.5,1568.0" fill="none" stroke="#ed1c24" stroke-width="3.8" stroke-linecap="round"/>
<text x="780.0" y="1607.5" font-family="'Liberation Sans', sans-serif" font-size="36" fill="#ed1c24" textLength="35.0" lengthAdjust="spacingAndGlyphs" stroke="#ed1c24" stroke-width="1.4" stroke-linejoin="round">15</text>
<path d="M816,1614.5 L827.5,1590.5" stroke="#ed1c24" stroke-width="3.2"/>
<text x="830.0" y="1612.5" font-family="'Liberation Serif', serif" font-size="37" font-style="italic" fill="#ed1c24" textLength="44.1" lengthAdjust="spacingAndGlyphs" stroke="#ed1c24" stroke-width="1.4" stroke-linejoin="round">т</text>
<path d="M883.9,1614.0 C886.7,1608.5 890.0,1613.5 894.9,1608.0" fill="none" stroke="#ed1c24" stroke-width="3.8" stroke-linecap="round"/>
<text x="906.0" y="1612.5" font-family="'Liberation Serif', serif" font-size="37" font-style="italic" fill="#ed1c24" textLength="25.1" lengthAdjust="spacingAndGlyphs" stroke="#ed1c24" stroke-width="1.4" stroke-linejoin="round">л</text>
<path d="M940.2,1614.0 C943.3,1608.5 947.0,1613.5 952.5,1608.0" fill="none" stroke="#ed1c24" stroke-width="3.8" stroke-linecap="round"/>
<rect x="1053.5" y="1483.5" width="43.0" height="39.0" fill="url(#hatch)"/>
<path fill-rule="evenodd" fill="#ed1c24" d="M1052.5,1482.5H1097.5V1523.5H1052.5Z M1055.7,1486.1V1518.5H1091.0V1486.1Z"/>
<text x="1111.0" y="1499.0" font-family="'Liberation Sans', sans-serif" font-size="36" fill="#ed1c24" textLength="35.0" lengthAdjust="spacingAndGlyphs" stroke="#ed1c24" stroke-width="1.4" stroke-linejoin="round">12</text>
<path d="M1147,1506 L1158.5,1482" stroke="#ed1c24" stroke-width="3.2"/>
<text x="1161.0" y="1504.0" font-family="'Liberation Serif', serif" font-size="37" font-style="italic" fill="#ed1c24" textLength="38.3" lengthAdjust="spacingAndGlyphs" stroke="#ed1c24" stroke-width="1.4" stroke-linejoin="round">т</text>
<path d="M1207.9,1505.5 C1210.3,1500.0 1213.1,1505.0 1217.4,1499.5" fill="none" stroke="#ed1c24" stroke-width="3.8" stroke-linecap="round"/>
<text x="1227.0" y="1504.0" font-family="'Liberation Serif', serif" font-size="37" font-style="italic" fill="#ed1c24" textLength="21.8" lengthAdjust="spacingAndGlyphs" stroke="#ed1c24" stroke-width="1.4" stroke-linejoin="round">ч</text>
<path d="M1256.8,1505.5 C1259.5,1500.0 1262.7,1505.0 1267.5,1499.5" fill="none" stroke="#ed1c24" stroke-width="3.8" stroke-linecap="round"/>
<text x="1119.0" y="1542.5" font-family="'Liberation Sans', sans-serif" font-size="36" fill="#ed1c24" textLength="20.0" lengthAdjust="spacingAndGlyphs" stroke="#ed1c24" stroke-width="1.4" stroke-linejoin="round">6</text>
<path d="M1140,1549.5 L1151.5,1525.5" stroke="#ed1c24" stroke-width="3.2"/>
<text x="1154.0" y="1547.5" font-family="'Liberation Serif', serif" font-size="37" font-style="italic" fill="#ed1c24" textLength="44.1" lengthAdjust="spacingAndGlyphs" stroke="#ed1c24" stroke-width="1.4" stroke-linejoin="round">т</text>
<path d="M1207.9,1549.0 C1210.7,1543.5 1214.0,1548.5 1218.9,1543.0" fill="none" stroke="#ed1c24" stroke-width="3.8" stroke-linecap="round"/>
<text x="1230.0" y="1547.5" font-family="'Liberation Serif', serif" font-size="37" font-style="italic" fill="#ed1c24" textLength="25.1" lengthAdjust="spacingAndGlyphs" stroke="#ed1c24" stroke-width="1.4" stroke-linejoin="round">л</text>
<path d="M1264.2,1549.0 C1267.3,1543.5 1271.0,1548.5 1276.5,1543.0" fill="none" stroke="#ed1c24" stroke-width="3.8" stroke-linecap="round"/>
<rect x="967" y="1655" width="41" height="39" fill="url(#hatch)"/>
<path fill-rule="evenodd" fill="#ed1c24" d="M966,1654H1009V1695H966Z M969.2,1657.6V1690H1002.5V1657.6Z"/>
<text x="1024.0" y="1682.5" font-family="'Liberation Sans', sans-serif" font-size="36" fill="#ed1c24" textLength="40.0" lengthAdjust="spacingAndGlyphs" stroke="#ed1c24" stroke-width="1.4" stroke-linejoin="round">42</text>
<path d="M1065,1689.5 L1076.5,1665.5" stroke="#ed1c24" stroke-width="3.2"/>
<text x="1079.0" y="1687.5" font-family="'Liberation Serif', serif" font-size="37" font-style="italic" fill="#ed1c24" textLength="39.1" lengthAdjust="spacingAndGlyphs" stroke="#ed1c24" stroke-width="1.4" stroke-linejoin="round">т</text>
<path d="M1126.7,1689.0 C1129.2,1683.5 1132.1,1688.5 1136.5,1683.0" fill="none" stroke="#ed1c24" stroke-width="3.8" stroke-linecap="round"/>
<text x="1146.3" y="1687.5" font-family="'Liberation Serif', serif" font-size="37" font-style="italic" fill="#ed1c24" textLength="22.2" lengthAdjust="spacingAndGlyphs" stroke="#ed1c24" stroke-width="1.4" stroke-linejoin="round">ч</text>
<path d="M1176.7,1689.0 C1179.4,1683.5 1182.6,1688.5 1187.5,1683.0" fill="none" stroke="#ed1c24" stroke-width="3.8" stroke-linecap="round"/>
<text x="1030.0" y="1722.5" font-family="'Liberation Sans', sans-serif" font-size="36" fill="#ed1c24" textLength="35.0" lengthAdjust="spacingAndGlyphs" stroke="#ed1c24" stroke-width="1.4" stroke-linejoin="round">10</text>
<path d="M1066,1729.5 L1077.5,1705.5" stroke="#ed1c24" stroke-width="3.2"/>
<text x="1080.0" y="1727.5" font-family="'Liberation Serif', serif" font-size="37" font-style="italic" fill="#ed1c24" textLength="41.0" lengthAdjust="spacingAndGlyphs" stroke="#ed1c24" stroke-width="1.4" stroke-linejoin="round">т</text>
<path d="M1130.2,1729.0 C1132.7,1723.5 1135.8,1728.5 1140.4,1723.0" fill="none" stroke="#ed1c24" stroke-width="3.8" stroke-linecap="round"/>
<text x="1150.7" y="1727.5" font-family="'Liberation Serif', serif" font-size="37" font-style="italic" fill="#ed1c24" textLength="23.4" lengthAdjust="spacingAndGlyphs" stroke="#ed1c24" stroke-width="1.4" stroke-linejoin="round">л</text>
<path d="M1182.6,1729.0 C1185.4,1723.5 1188.9,1728.5 1194.0,1723.0" fill="none" stroke="#ed1c24" stroke-width="3.8" stroke-linecap="round"/>
<text x="1189.0" y="1384.0" font-family="'Liberation Sans', sans-serif" font-size="36" fill="#ed1c24" textLength="35.0" lengthAdjust="spacingAndGlyphs" stroke="#ed1c24" stroke-width="1.4" stroke-linejoin="round">15</text>
<path d="M1225,1391 L1236.5,1367" stroke="#ed1c24" stroke-width="3.2"/>
<text x="1239.0" y="1389.0" font-family="'Liberation Serif', serif" font-size="37" font-style="italic" fill="#ed1c24" textLength="38.2" lengthAdjust="spacingAndGlyphs" stroke="#ed1c24" stroke-width="1.4" stroke-linejoin="round">т</text>
<path d="M1285.6,1390.5 C1288.0,1385.0 1290.9,1390.0 1295.2,1384.5" fill="none" stroke="#ed1c24" stroke-width="3.8" stroke-linecap="round"/>
<text x="1304.7" y="1389.0" font-family="'Liberation Serif', serif" font-size="37" font-style="italic" fill="#ed1c24" textLength="21.7" lengthAdjust="spacingAndGlyphs" stroke="#ed1c24" stroke-width="1.4" stroke-linejoin="round">ч</text>
<path d="M1334.4,1390.5 C1337.1,1385.0 1340.2,1390.0 1345.0,1384.5" fill="none" stroke="#ed1c24" stroke-width="3.8" stroke-linecap="round"/>
<text x="1202.5" y="1425.0" font-family="'Liberation Sans', sans-serif" font-size="36" fill="#ed1c24" textLength="20.0" lengthAdjust="spacingAndGlyphs" stroke="#ed1c24" stroke-width="1.4" stroke-linejoin="round">4</text>
<path d="M1223.5,1432 L1235.0,1408" stroke="#ed1c24" stroke-width="3.2"/>
<text x="1237.5" y="1430.0" font-family="'Liberation Serif', serif" font-size="37" font-style="italic" fill="#ed1c24" textLength="43.2" lengthAdjust="spacingAndGlyphs" stroke="#ed1c24" stroke-width="1.4" stroke-linejoin="round">т</text>
<path d="M1290.3,1431.5 C1293.0,1426.0 1296.2,1431.0 1301.1,1425.5" fill="none" stroke="#ed1c24" stroke-width="3.8" stroke-linecap="round"/>
<text x="1311.9" y="1430.0" font-family="'Liberation Serif', serif" font-size="37" font-style="italic" fill="#ed1c24" textLength="24.6" lengthAdjust="spacingAndGlyphs" stroke="#ed1c24" stroke-width="1.4" stroke-linejoin="round">л</text>
<path d="M1345.5,1431.5 C1348.5,1426.0 1352.1,1431.0 1357.5,1425.5" fill="none" stroke="#ed1c24" stroke-width="3.8" stroke-linecap="round"/>
<path fill-rule="evenodd" fill="#ed1c24" d="M1367.5,1400H1409V1440H1367.5Z M1370.9,1403.2V1435.2H1403.8V1403.2Z"/>
<rect x="1398.5" y="1471" width="39.5" height="39" fill="url(#hatch)"/>
<path fill-rule="evenodd" fill="#ed1c24" d="M1397.5,1470H1439V1511H1397.5Z M1400.7,1473.6V1506H1432.5V1473.6Z"/>
<text x="1455.0" y="1497.5" font-family="'Liberation Sans', sans-serif" font-size="36" fill="#ed1c24" textLength="35.0" lengthAdjust="spacingAndGlyphs" stroke="#ed1c24" stroke-width="1.4" stroke-linejoin="round">12</text>
<path d="M1491,1504.5 L1502.5,1480.5" stroke="#ed1c24" stroke-width="3.2"/>
<text x="1505.0" y="1502.5" font-family="'Liberation Serif', serif" font-size="37" font-style="italic" fill="#ed1c24" textLength="38.7" lengthAdjust="spacingAndGlyphs" stroke="#ed1c24" stroke-width="1.4" stroke-linejoin="round">т</text>
<path d="M1552.3,1504.0 C1554.7,1498.5 1557.6,1503.5 1562.0,1498.0" fill="none" stroke="#ed1c24" stroke-width="3.8" stroke-linecap="round"/>
<text x="1571.7" y="1502.5" font-family="'Liberation Serif', serif" font-size="37" font-style="italic" fill="#ed1c24" textLength="22.0" lengthAdjust="spacingAndGlyphs" stroke="#ed1c24" stroke-width="1.4" stroke-linejoin="round">ч</text>
<path d="M1601.8,1504.0 C1604.4,1498.5 1607.7,1503.5 1612.5,1498.0" fill="none" stroke="#ed1c24" stroke-width="3.8" stroke-linecap="round"/>
<text x="1462.5" y="1540.0" font-family="'Liberation Sans', sans-serif" font-size="36" fill="#ed1c24" textLength="20.0" lengthAdjust="spacingAndGlyphs" stroke="#ed1c24" stroke-width="1.4" stroke-linejoin="round">4</text>
<path d="M1483.5,1547 L1495.0,1523" stroke="#ed1c24" stroke-width="3.2"/>
<text x="1497.5" y="1545.0" font-family="'Liberation Serif', serif" font-size="37" font-style="italic" fill="#ed1c24" textLength="41.4" lengthAdjust="spacingAndGlyphs" stroke="#ed1c24" stroke-width="1.4" stroke-linejoin="round">т</text>
<path d="M1548.1,1546.5 C1550.7,1541.0 1553.8,1546.0 1558.5,1540.5" fill="none" stroke="#ed1c24" stroke-width="3.8" stroke-linecap="round"/>
<text x="1568.8" y="1545.0" font-family="'Liberation Serif', serif" font-size="37" font-style="italic" fill="#ed1c24" textLength="23.6" lengthAdjust="spacingAndGlyphs" stroke="#ed1c24" stroke-width="1.4" stroke-linejoin="round">л</text>
<path d="M1601.0,1546.5 C1603.9,1541.0 1607.3,1546.0 1612.5,1540.5" fill="none" stroke="#ed1c24" stroke-width="3.8" stroke-linecap="round"/>
<rect x="1810" y="1413.5" width="41.5" height="40.5" fill="url(#hatch)"/>
<path fill-rule="evenodd" fill="#ed1c24" d="M1809,1412.5H1852.5V1455H1809Z M1812.2,1416.1V1450H1846.0V1416.1Z"/>
<text x="1864.0" y="1439.0" font-family="'Liberation Sans', sans-serif" font-size="36" fill="#ed1c24" textLength="30.0" lengthAdjust="spacingAndGlyphs" stroke="#ed1c24" stroke-width="1.4" stroke-linejoin="round">10</text>
<path d="M1895,1446 L1906.5,1422" stroke="#ed1c24" stroke-width="3.2"/>
<text x="1909.0" y="1444.0" font-family="'Liberation Serif', serif" font-size="37" font-style="italic" fill="#ed1c24" textLength="33.1" lengthAdjust="spacingAndGlyphs" stroke="#ed1c24" stroke-width="1.4" stroke-linejoin="round">т</text>
<path d="M1949.5,1445.5 C1951.5,1440.0 1954.0,1445.0 1957.8,1439.5" fill="none" stroke="#ed1c24" stroke-width="3.8" stroke-linecap="round"/>
<text x="1966.0" y="1444.0" font-family="'Liberation Serif', serif" font-size="37" font-style="italic" fill="#ed1c24" textLength="18.9" lengthAdjust="spacingAndGlyphs" stroke="#ed1c24" stroke-width="1.4" stroke-linejoin="round">ч</text>
<path d="M1991.8,1445.5 C1994.1,1440.0 1996.9,1445.0 2001.0,1439.5" fill="none" stroke="#ed1c24" stroke-width="3.8" stroke-linecap="round"/>
<text x="1871.0" y="1479.0" font-family="'Liberation Sans', sans-serif" font-size="36" fill="#ed1c24" textLength="20.0" lengthAdjust="spacingAndGlyphs" stroke="#ed1c24" stroke-width="1.4" stroke-linejoin="round">3</text>
<path d="M1892,1486 L1903.5,1462" stroke="#ed1c24" stroke-width="3.2"/>
<text x="1906.0" y="1484.0" font-family="'Liberation Serif', serif" font-size="37" font-style="italic" fill="#ed1c24" textLength="38.9" lengthAdjust="spacingAndGlyphs" stroke="#ed1c24" stroke-width="1.4" stroke-linejoin="round">т</text>
<path d="M1953.5,1485.5 C1956.0,1480.0 1958.9,1485.0 1963.2,1479.5" fill="none" stroke="#ed1c24" stroke-width="3.8" stroke-linecap="round"/>
<text x="1973.0" y="1484.0" font-family="'Liberation Serif', serif" font-size="37" font-style="italic" fill="#ed1c24" textLength="22.1" lengthAdjust="spacingAndGlyphs" stroke="#ed1c24" stroke-width="1.4" stroke-linejoin="round">л</text>
<path d="M2003.2,1485.5 C2005.9,1480.0 2009.1,1485.0 2014.0,1479.5" fill="none" stroke="#ed1c24" stroke-width="3.8" stroke-linecap="round"/>
<path d="M1998.0,740.0 L2010.5,724.0 L2023.0,740.0 Z" fill="none" stroke="#ed1c24" stroke-width="4" stroke-linejoin="miter"/>
<rect x="2122.5" y="849.5" width="39.5" height="39.5" fill="url(#hatch)"/>
<path fill-rule="evenodd" fill="#ed1c24" d="M2121.5,848.5H2163V890H2121.5Z M2124.7,852.1V885H2156.5V852.1Z"/>
<text x="2175.5" y="875.0" font-family="'Liberation Sans', sans-serif" font-size="36" fill="#ed1c24" textLength="20.0" lengthAdjust="spacingAndGlyphs" stroke="#ed1c24" stroke-width="1.4" stroke-linejoin="round">7</text>
<path d="M2196.5,882 L2208.0,858" stroke="#ed1c24" stroke-width="3.2"/>
<text x="2210.5" y="880.0" font-family="'Liberation Serif', serif" font-size="37" font-style="italic" fill="#ed1c24" textLength="36.0" lengthAdjust="spacingAndGlyphs" stroke="#ed1c24" stroke-width="1.4" stroke-linejoin="round">т</text>
<path d="M2254.5,881.5 C2256.8,876.0 2259.4,881.0 2263.5,875.5" fill="none" stroke="#ed1c24" stroke-width="3.8" stroke-linecap="round"/>
<text x="2272.5" y="880.0" font-family="'Liberation Serif', serif" font-size="37" font-style="italic" fill="#ed1c24" textLength="20.5" lengthAdjust="spacingAndGlyphs" stroke="#ed1c24" stroke-width="1.4" stroke-linejoin="round">ч</text>
<path d="M2300.5,881.5 C2303.0,876.0 2306.0,881.0 2310.5,875.5" fill="none" stroke="#ed1c24" stroke-width="3.8" stroke-linecap="round"/>
<text x="2175.5" y="917.5" font-family="'Liberation Sans', sans-serif" font-size="36" fill="#ed1c24" textLength="40.0" lengthAdjust="spacingAndGlyphs" stroke="#ed1c24" stroke-width="1.4" stroke-linejoin="round">4½</text>
<path d="M2216.5,924.5 L2228.0,900.5" stroke="#ed1c24" stroke-width="3.2"/>
<text x="2230.5" y="922.5" font-family="'Liberation Serif', serif" font-size="37" font-style="italic" fill="#ed1c24" textLength="43.2" lengthAdjust="spacingAndGlyphs" stroke="#ed1c24" stroke-width="1.4" stroke-linejoin="round">т</text>
<path d="M2283.3,924.0 C2286.0,918.5 2289.2,923.5 2294.1,918.0" fill="none" stroke="#ed1c24" stroke-width="3.8" stroke-linecap="round"/>
<text x="2304.9" y="922.5" font-family="'Liberation Serif', serif" font-size="37" font-style="italic" fill="#ed1c24" textLength="24.6" lengthAdjust="spacingAndGlyphs" stroke="#ed1c24" stroke-width="1.4" stroke-linejoin="round">л</text>
<path d="M2338.5,924.0 C2341.5,918.5 2345.1,923.5 2350.5,918.0" fill="none" stroke="#ed1c24" stroke-width="3.8" stroke-linecap="round"/>
<circle cx="1287.5" cy="915" r="19" fill="none" stroke="#ed1c24" stroke-width="5.5"/>
<path d="M1403.0,1000.5 L1415.5,980.5 L1428.0,1000.5 Z" fill="none" stroke="#ed1c24" stroke-width="4" stroke-linejoin="miter"/>
<circle cx="1741.5" cy="1030" r="18.8" fill="url(#hatchc)" stroke="#ed1c24" stroke-width="5.5"/>
<rect x="2012.5" y="1186" width="42.0" height="37" fill="url(#hatch)"/>
<path fill-rule="evenodd" fill="#ed1c24" d="M2011.5,1185H2055.5V1224H2011.5Z M2014.7,1188.6V1219H2049.0V1188.6Z"/>
<text x="2069.0" y="1209.0" font-family="'Liberation Sans', sans-serif" font-size="36" fill="#ed1c24" textLength="31.0" lengthAdjust="spacingAndGlyphs" stroke="#ed1c24" stroke-width="1.4" stroke-linejoin="round">10</text>
<path d="M2101,1216 L2112.5,1192" stroke="#ed1c24" stroke-width="3.2"/>
<text x="2115.0" y="1214.0" font-family="'Liberation Serif', serif" font-size="37" font-style="italic" fill="#ed1c24" textLength="33.5" lengthAdjust="spacingAndGlyphs" stroke="#ed1c24" stroke-width="1.4" stroke-linejoin="round">т</text>
<path d="M2155.9,1215.5 C2158.0,1210.0 2160.5,1215.0 2164.3,1209.5" fill="none" stroke="#ed1c24" stroke-width="3.8" stroke-linecap="round"/>
<text x="2172.7" y="1214.0" font-family="'Liberation Serif', serif" font-size="37" font-style="italic" fill="#ed1c24" textLength="19.1" lengthAdjust="spacingAndGlyphs" stroke="#ed1c24" stroke-width="1.4" stroke-linejoin="round">ч</text>
<path d="M2198.7,1215.5 C2201.0,1210.0 2203.8,1215.0 2208.0,1209.5" fill="none" stroke="#ed1c24" stroke-width="3.8" stroke-linecap="round"/>
<text x="2073.0" y="1254.0" font-family="'Liberation Sans', sans-serif" font-size="36" fill="#ed1c24" textLength="20.0" lengthAdjust="spacingAndGlyphs" stroke="#ed1c24" stroke-width="1.4" stroke-linejoin="round">3</text>
<path d="M2094,1261 L2105.5,1237" stroke="#ed1c24" stroke-width="3.2"/>
<text x="2108.0" y="1259.0" font-family="'Liberation Serif', serif" font-size="37" font-style="italic" fill="#ed1c24" textLength="36.9" lengthAdjust="spacingAndGlyphs" stroke="#ed1c24" stroke-width="1.4" stroke-linejoin="round">т</text>
<path d="M2153.1,1260.5 C2155.4,1255.0 2158.2,1260.0 2162.3,1254.5" fill="none" stroke="#ed1c24" stroke-width="3.8" stroke-linecap="round"/>
<text x="2171.6" y="1259.0" font-family="'Liberation Serif', serif" font-size="37" font-style="italic" fill="#ed1c24" textLength="21.0" lengthAdjust="spacingAndGlyphs" stroke="#ed1c24" stroke-width="1.4" stroke-linejoin="round">л</text>
<path d="M2200.2,1260.5 C2202.8,1255.0 2205.9,1260.0 2210.5,1254.5" fill="none" stroke="#ed1c24" stroke-width="3.8" stroke-linecap="round"/>
<path fill-rule="evenodd" fill="#ed1c24" d="M1514,1877.5H1554V1916.5H1514Z M1517.4,1880.7V1911.7H1548.8V1880.7Z"/>
<rect x="1515" y="1964.5" width="38" height="38.5" fill="url(#hatch)"/>
<path fill-rule="evenodd" fill="#ed1c24" d="M1514,1963.5H1554V2004H1514Z M1517.2,1967.1V1999H1547.5V1967.1Z"/>
<circle cx="1532.5" cy="2078.5" r="22" fill="#ed1c24"/>
<circle cx="1532.5" cy="2170" r="19.2" fill="url(#hatchc)" stroke="#ed1c24" stroke-width="5.5"/>
<circle cx="1529" cy="2266" r="19" fill="none" stroke="#ed1c24" stroke-width="5.5"/>
<path d="M1516.0,2370.0 L1531.5,2343.0 L1547.0,2370.0 Z" fill="#ed1c24"/>
<path d="M1517.5,2464.75 L1530,2447.25 L1542.5,2464.75 Z" fill="none" stroke="#ed1c24" stroke-width="4" stroke-linejoin="miter"/>
<circle cx="1530" cy="2526" r="19.5" fill="none" stroke="#ed1c24" stroke-width="5"/>
<rect x="1518" y="2517.3" width="24" height="17.4" fill="url(#hatch2)" stroke="#ed1c24" stroke-width="4"/>
</g>
</svg>
</body></html>
